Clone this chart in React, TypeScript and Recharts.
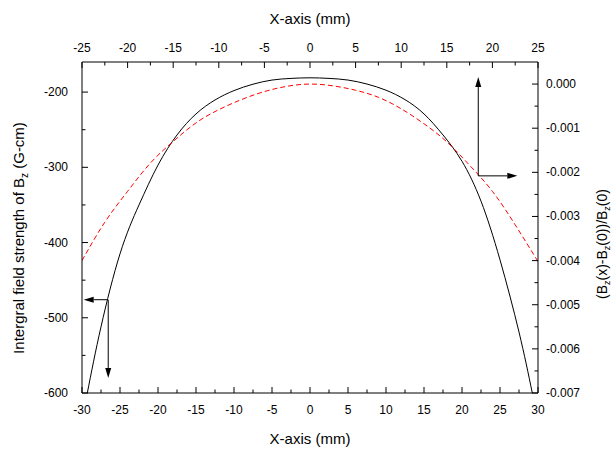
import { Label, Line, LineChart, ReferenceLine, XAxis, YAxis } from "recharts";

const FONT = "'Liberation Sans', Arial, sans-serif";

// black curve: integral field strength vs bottom x-axis (mm)
const fieldX = [-29.3, -27.5, -25, -22.5, -20, -17.5, -15, -12.5, -10, -7.5, -5, -2.5, 0, 2.5, 5, 7.5, 10, 12.5, 15, 17.5, 20, 22.5, 25, 27.5, 29.25];
const fieldY = [-600, -512, -415, -350, -297, -257, -229, -210.5, -198, -189.5, -184, -181.8, -181, -181.8, -184, -189.3, -197.5, -210, -229, -257, -292, -345, -423, -519, -600];

// red dashed curve: relative deviation vs top x-axis (mm)
const devX = [-25, -22.5, -20, -17.5, -15, -12.5, -10, -7.5, -5, -2.5, 0, 2.5, 5, 7.5, 10, 12.5, 15, 17.5, 20, 22.5, 25];
const devY = [-0.004, -0.00313, -0.00243, -0.00179, -0.0013, -0.00088, -0.00058, -0.00035, -0.00017, -0.00005, 0, -0.00004, -0.00014, -0.0003, -0.00056, -0.0009, -0.00131, -0.00184, -0.00243, -0.00319, -0.00402];

const bottomTicks = [-30, -27.5, -25, -22.5, -20, -17.5, -15, -12.5, -10, -7.5, -5, -2.5, 0, 2.5, 5, 7.5, 10, 12.5, 15, 17.5, 20, 22.5, 25, 27.5, 30];
const topTicks = [-25, -22.5, -20, -17.5, -15, -12.5, -10, -7.5, -5, -2.5, 0, 2.5, 5, 7.5, 10, 12.5, 15, 17.5, 20, 22.5, 25];
const leftTicks = [-600, -550, -500, -450, -400, -350, -300, -250, -200];
const rightTicks = [-0.007, -0.0065, -0.006, -0.0055, -0.005, -0.0045, -0.004, -0.0035, -0.003, -0.0025, -0.002, -0.0015, -0.001, -0.0005, 0];

// arrows pointing each curve to its axes
const leftArrows = [
  [{ x: -26.64, y: -476 }, { x: -29.78, y: -476 }],
  [{ x: -26.55, y: -476 }, { x: -26.55, y: -580 }],
];
const rightArrows = [
  [{ x: 18.45, y: -0.00208 }, { x: 18.45, y: 0.00016 }],
  [{ x: 18.45, y: -0.00208 }, { x: 22.73, y: -0.00208 }],
];

const fieldData = fieldX.map((x, i) => ({ x, v: fieldY[i] }));
const devData = devX.map((x, i) => ({ x, d: devY[i] }));

const isMajorX = (v: number) => Math.abs(v % 5) < 1e-9;
const isMajorY = (v: number) => Math.abs(v % 100) < 1e-9;
const isMajorR = (v: number) => Math.abs(v * 1000 - Math.round(v * 1000)) < 1e-6;

function BottomTick({ x, y, payload }: any) {
  const major = isMajorX(payload.value);
  return (
    <g>
      <line x1={x} y1={y} x2={x} y2={y - (major ? 6 : 3.5)} stroke="#000" />
      {major && (
        <text x={x} y={y + 21} textAnchor="middle" fontSize={12} fontFamily={FONT} fill="#000">
          {payload.value}
        </text>
      )}
    </g>
  );
}

function TopTick({ x, y, payload }: any) {
  const major = isMajorX(payload.value);
  return (
    <g>
      <line x1={x} y1={y} x2={x} y2={y + (major ? 6 : 3.5)} stroke="#000" />
      {major && (
        <text x={x} y={y - 10} textAnchor="middle" fontSize={12} fontFamily={FONT} fill="#000">
          {payload.value}
        </text>
      )}
    </g>
  );
}

function LeftTick({ x, y, payload }: any) {
  const major = isMajorY(payload.value);
  return (
    <g>
      <line x1={x} y1={y} x2={x + (major ? 6 : 3.5)} y2={y} stroke="#000" />
      {major && (
        <text x={x - 14} y={y + 4} textAnchor="end" fontSize={12} fontFamily={FONT} fill="#000">
          {payload.value}
        </text>
      )}
    </g>
  );
}

function RightTick({ x, y, payload }: any) {
  const major = isMajorR(payload.value);
  const v = Math.abs(payload.value) < 1e-9 ? 0 : payload.value;
  return (
    <g>
      <line x1={x} y1={y} x2={x - (major ? 6 : 3.5)} y2={y} stroke="#000" />
      {major && (
        <text x={x + 8} y={y + 4} textAnchor="start" fontSize={12} fontFamily={FONT} fill="#000">
          {v.toFixed(3)}
        </text>
      )}
    </g>
  );
}

function Arrow({ x1, y1, x2, y2 }: any) {
  const a = Math.atan2(y2 - y1, x2 - x1);
  const c = Math.cos(a);
  const s = Math.sin(a);
  const bx = x2 - 10 * c;
  const by = y2 - 10 * s;
  const pts = `${x2},${y2} ${bx - 3 * s},${by + 3 * c} ${bx + 3 * s},${by - 3 * c}`;
  return (
    <g>
      <line x1={x1} y1={y1} x2={bx} y2={by} stroke="#000" strokeWidth={1} />
      <polygon points={pts} fill="#000" />
    </g>
  );
}

const titleStyle = { fontSize: 15, fontFamily: FONT, fill: "#000" };

function TopTitle({ viewBox }: any) {
  return (
    <text x={viewBox.x + viewBox.width / 2} y={24} textAnchor="middle" {...titleStyle}>
      X-axis (mm)
    </text>
  );
}

function BottomTitle({ viewBox }: any) {
  return (
    <text x={viewBox.x + viewBox.width / 2} y={viewBox.y + 51} textAnchor="middle" {...titleStyle}>
      X-axis (mm)
    </text>
  );
}

function LeftTitle() {
  return (
    <text transform="translate(24,238) rotate(-90)" textAnchor="middle" {...titleStyle}>
      Intergral field strength of B<tspan dy={4} fontSize={10}>z</tspan>
      <tspan dy={-4}> (G-cm)</tspan>
    </text>
  );
}

function RightTitle() {
  return (
    <text transform="translate(607,244) rotate(-90)" textAnchor="middle" {...titleStyle} fontSize={14}>
      (B<tspan dy={3} fontSize={9}>z</tspan>
      <tspan dy={-3}>(x)-B</tspan>
      <tspan dy={3} fontSize={9}>z</tspan>
      <tspan dy={-3}>(0))/B</tspan>
      <tspan dy={3} fontSize={9}>z</tspan>
      <tspan dy={-3}>(0)</tspan>
    </text>
  );
}

export default function App() {
  return (
    <div style={{ position: "absolute", left: 0, top: 0, background: "#fff" }}>
      <LineChart width={613} height={450} margin={{ top: 0, right: 0, bottom: 0, left: 0 }}>
        <XAxis
          xAxisId="bottom"
          orientation="bottom"
          type="number"
          dataKey="x"
          domain={[-30, 30]}
          ticks={bottomTicks}
          interval={0}
          allowDataOverflow
          height={57}
          tickSize={0}
          tickMargin={0}
          tickLine={false}
          axisLine={{ stroke: "#000" }}
          tick={<BottomTick />}
        >
          <Label content={<BottomTitle />} />
        </XAxis>
        <XAxis
          xAxisId="top"
          orientation="top"
          type="number"
          dataKey="x"
          domain={[-25, 25]}
          ticks={topTicks}
          interval={0}
          allowDataOverflow
          height={62}
          tickSize={0}
          tickMargin={0}
          tickLine={false}
          axisLine={{ stroke: "#000" }}
          tick={<TopTick />}
        >
          <Label content={<TopTitle />} />
        </XAxis>
        <YAxis
          yAxisId="left"
          orientation="left"
          type="number"
          domain={[-600, -160]}
          ticks={leftTicks}
          interval={0}
          allowDataOverflow
          width={82}
          tickSize={0}
          tickMargin={0}
          tickLine={false}
          axisLine={{ stroke: "#000" }}
          tick={<LeftTick />}
        >
          <Label content={<LeftTitle />} />
        </YAxis>
        <YAxis
          yAxisId="right"
          orientation="right"
          type="number"
          domain={[-0.007, 0.0005]}
          ticks={rightTicks}
          interval={0}
          allowDataOverflow
          width={75}
          tickSize={0}
          tickMargin={0}
          tickLine={false}
          axisLine={{ stroke: "#000" }}
          tick={<RightTick />}
        >
          <Label content={<RightTitle />} />
        </YAxis>
        <Line
          data={fieldData}
          xAxisId="bottom"
          yAxisId="left"
          dataKey="v"
          type="natural"
          stroke="#000"
          strokeWidth={1}
          dot={false}
          isAnimationActive={false}
        />
        <Line
          data={devData}
          xAxisId="top"
          yAxisId="right"
          dataKey="d"
          type="natural"
          stroke="#ff0000"
          strokeWidth={1}
          strokeDasharray="5 3"
          dot={false}
          isAnimationActive={false}
        />
        {leftArrows.map((seg, i) => (
          <ReferenceLine key={`l${i}`} xAxisId="bottom" yAxisId="left" segment={seg} shape={Arrow} ifOverflow="visible" />
        ))}
        {rightArrows.map((seg, i) => (
          <ReferenceLine key={`r${i}`} xAxisId="top" yAxisId="right" segment={seg} shape={Arrow} ifOverflow="visible" />
        ))}
      </LineChart>
    </div>
  );
}
